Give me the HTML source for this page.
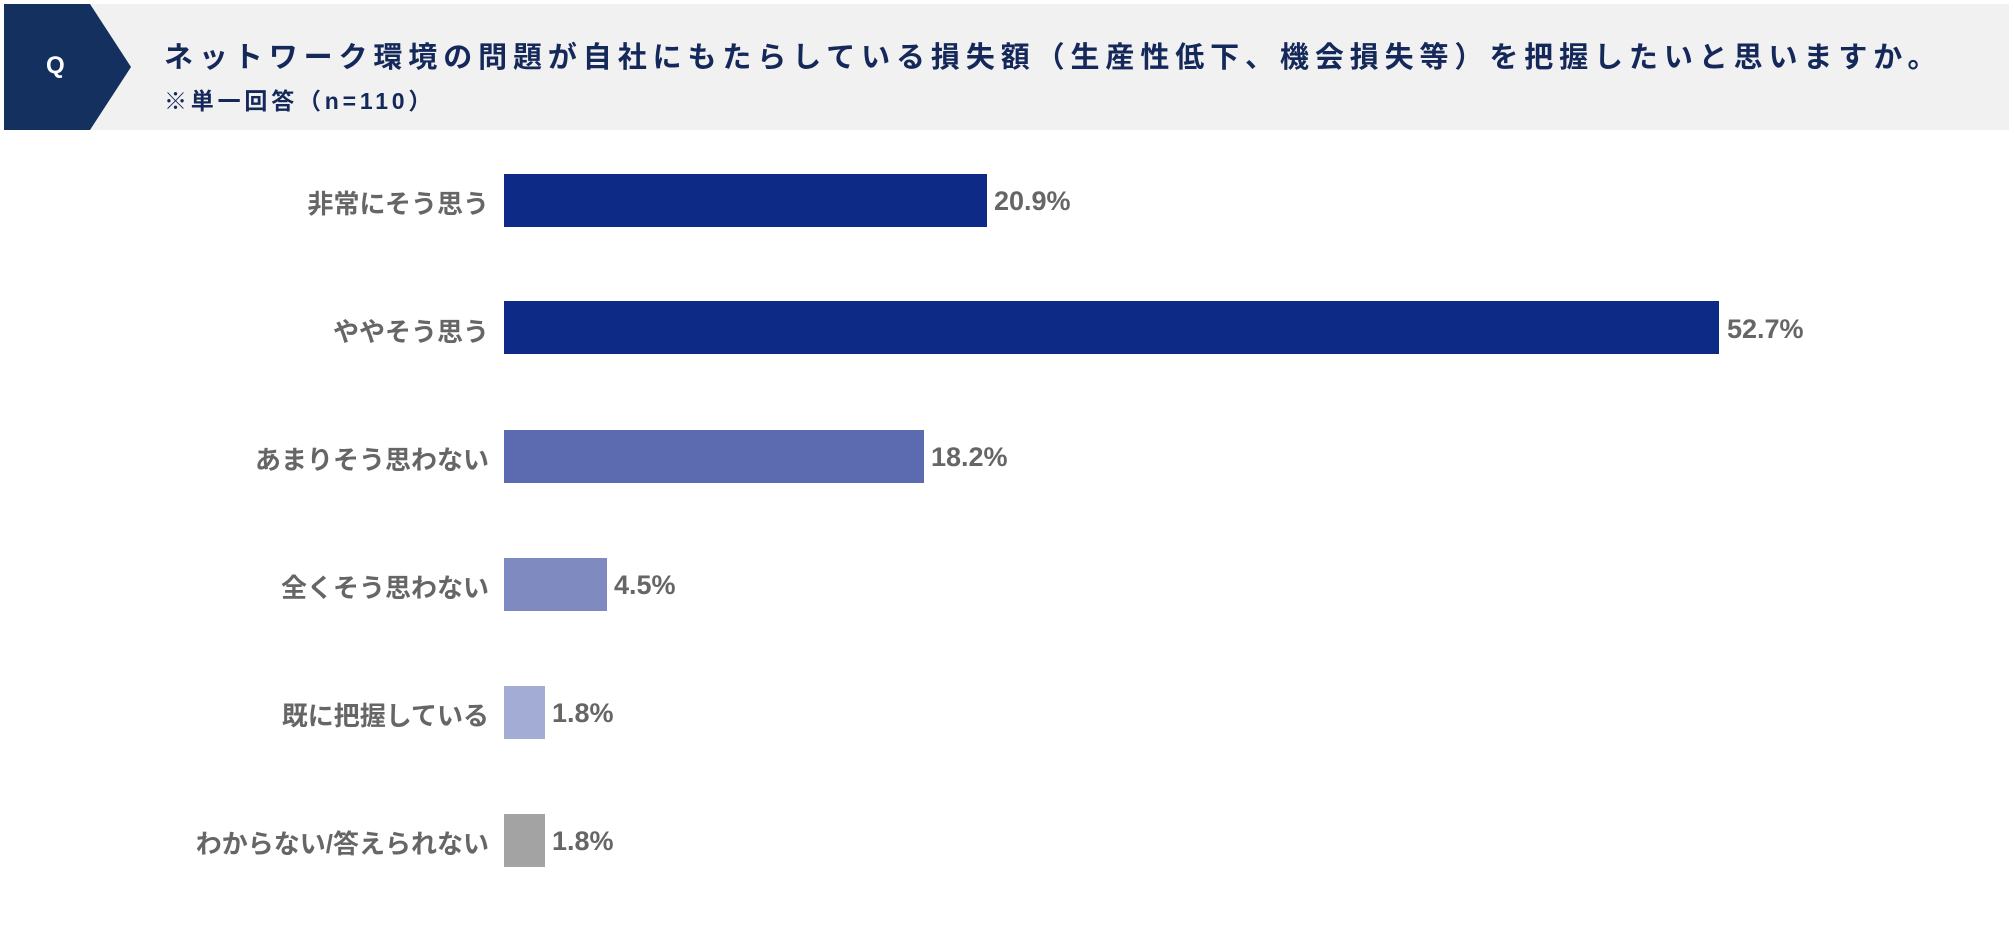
<!DOCTYPE html>
<html><head><meta charset="utf-8"><style>
body{margin:0;width:2014px;height:942px;background:#fff;position:relative;overflow:hidden;font-family:"Liberation Sans","Noto Sans CJK JP",sans-serif}
.hd{position:absolute;left:4px;top:4px;width:2005px;height:126px;background:#f1f1f1}
.q{position:absolute;left:0;top:0;width:127px;height:126px;background:#13305e;clip-path:polygon(0 0,86px 0,127px 63px,86px 126px,0 126px)}
.ql{position:absolute;left:42px;top:48px;color:#fff;font-size:24px;font-weight:bold}
.t1{position:absolute;left:160px;top:30px;font-size:29px;font-weight:bold;color:#14285a;letter-spacing:5.9px;white-space:nowrap}
.t2{position:absolute;left:160px;top:78px;font-size:23px;font-weight:bold;color:#14285a;letter-spacing:3.8px;white-space:nowrap}
.lb{position:absolute;right:1525px;font-size:26px;font-weight:bold;color:#666;white-space:nowrap;text-align:right}
.bar{position:absolute;left:504px;height:53px}
.v{position:absolute;font-size:27px;font-weight:bold;color:#666}
</style></head><body>
<div class="hd"><div class="q"><div class="ql">Q</div></div>
<div class="t1">ネットワーク環境の問題が自社にもたらしている損失額（生産性低下、機会損失等）を把握したいと思いますか。</div>
<div class="t2">※単一回答（n=110）</div></div>

<div class="lb" style="top:184px">非常にそう思う</div>
<div class="bar" style="top:174px;width:483px;background:#0e2a87"></div>
<div class="v" style="left:994px;top:186px">20.9%</div>

<div class="lb" style="top:312px">ややそう思う</div>
<div class="bar" style="top:301px;width:1215px;background:#0e2a87"></div>
<div class="v" style="left:1727px;top:314px">52.7%</div>

<div class="lb" style="top:440px">あまりそう思わない</div>
<div class="bar" style="top:430px;width:420px;background:#5c6bb0"></div>
<div class="v" style="left:931px;top:442px">18.2%</div>

<div class="lb" style="top:568px">全くそう思わない</div>
<div class="bar" style="top:558px;width:103px;background:#7f8bc0"></div>
<div class="v" style="left:614px;top:570px">4.5%</div>

<div class="lb" style="top:696px">既に把握している</div>
<div class="bar" style="top:686px;width:41px;background:#a3acd4"></div>
<div class="v" style="left:552px;top:698px">1.8%</div>

<div class="lb" style="top:824px">わからない/答えられない</div>
<div class="bar" style="top:814px;width:41px;background:#a3a3a3"></div>
<div class="v" style="left:552px;top:826px">1.8%</div>
</body></html>
